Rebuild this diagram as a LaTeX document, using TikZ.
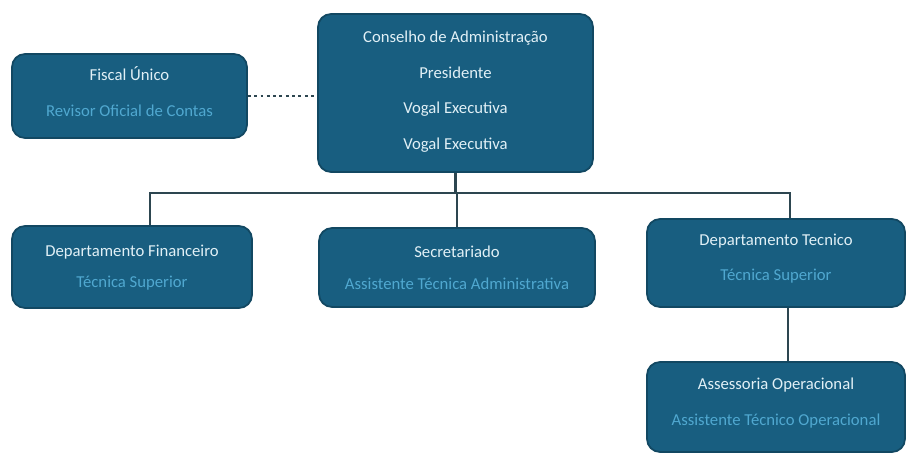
\documentclass[tikz,border=0pt]{standalone}
\usepackage{fontspec}
\setmainfont{Carlito}
\usetikzlibrary{calc}

\definecolor{boxfill}{RGB}{24,94,128}
\definecolor{boxline}{RGB}{18,72,98}
\definecolor{titletext}{RGB}{225,240,246}
\definecolor{subtext}{RGB}{80,168,208}
\definecolor{linkcol}{RGB}{45,70,80}

\tikzset{
  orgbox/.style={draw=boxline,line width=1pt,fill=boxfill,rounded corners=0.26cm},
  title/.style={text=titletext,font=\fontsize{9.5}{11}\selectfont},
  sub/.style={text=subtext,font=\fontsize{9.5}{11}\selectfont},
  link/.style={draw=linkcol,line width=1.4pt}
}

\begin{document}
\begin{tikzpicture}[x=0.02cm,y=-0.02cm]
        \useasboundingbox[fill=white] (0,0) rectangle (907,454);
        % boxes
        \node[orgbox,minimum width=4.7cm,minimum height=1.68cm] (fiscal) at (129.5,96) {};
        \node[orgbox,minimum width=5.5cm,minimum height=3.16cm] (cons) at (455.5,93) {};
        \node[orgbox,minimum width=4.8cm,minimum height=1.64cm] (fin) at (132,267) {};
        \node[orgbox,minimum width=5.52cm,minimum height=1.58cm] (sec) at (457,267.5) {};
        \node[orgbox,minimum width=5.16cm,minimum height=1.76cm] (tec) at (776,263) {};
        \node[orgbox,minimum width=5.16cm,minimum height=1.8cm] (ass) at (776,407) {};
        % texts
        \node[title] (fiscalA) at (129.5,74) {Fiscal Único};
        \node[sub] (fiscalB) at (129.5,111) {Revisor Oficial de Contas};
        \node[title] (consA) at (455.5,38) {Conselho de Administração};
        \node[title] (consB) at (455.5,73) {Presidente};
        \node[title] (consC) at (455.5,109) {Vogal Executiva};
        \node[title] (consD) at (455.5,145) {Vogal Executiva};
        \node[title] (finA) at (132,252) {Departamento Financeiro};
        \node[sub] (finB) at (132,283) {Técnica Superior};
        \node[title] (secA) at (457,252) {Secretariado};
        \node[sub] (secB) at (457,284) {Assistente Técnica Administrativa};
        \node[title] (tecA) at (776,241) {Departamento Tecnico};
        \node[sub] (tecB) at (776,276) {Técnica Superior};
        \node[title] (assA) at (776,385) {Assessoria Operacional};
        \node[sub] (assB) at (776,421) {Assistente Técnico Operacional};
        % links
        \coordinate (bus) at (455.5,193);
        \draw[draw=linkcol,line width=1.6pt,dotted] (fiscal.east) -- (cons.west |- fiscal.east);
        \draw[link] (cons.south) -- (bus);
        \draw[link] (bus) -| ([xshift=0.36cm]fin.north);
        \draw[link] (bus) -| ([xshift=0.28cm]tec.north);
        \draw[link] (bus) -- (sec.north |- bus) -- (sec.north);
        \draw[link] ([xshift=0.24cm]tec.south) -- ([xshift=0.24cm]ass.north);
\end{tikzpicture}
\end{document}
